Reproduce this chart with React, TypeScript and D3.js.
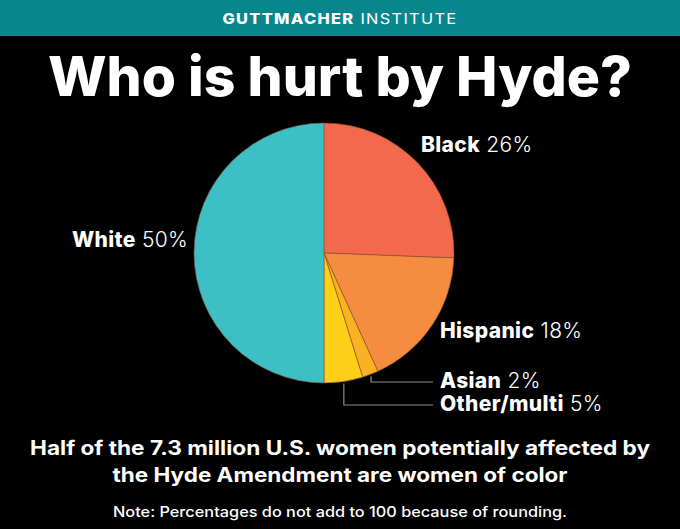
import React from 'react';
import * as d3 from 'd3';

// slice data (order clockwise from 12 o'clock)
const categories = ['Black', 'Hispanic', 'Asian', 'Other/multi', 'White'];
const shares = [25.6, 17.6, 2.0, 4.8, 50.0];
const pctLabels = ['26%', '18%', '2%', '5%', '50%'];
const sliceColors = ['#f26a4b', '#f58c40', '#fbb124', '#fdcf17', '#3cbfc5'];

const subtitleLines = [
  'Half of the 7.3 million U.S. women potentially affected by',
  'the Hyde Amendment are women of color',
];
const note = 'Note: Percentages do not add to 100 because of rounding.';

const W = 680;
const H = 529;
const FONT = 'Inter, "Open Sans", sans-serif';

// label placement (layout only)
const labelLayout: Record<string, { x: number; y: number; leader?: boolean }> = {
  Black: { x: 421, y: 152 },
  Hispanic: { x: 440, y: 338 },
  Asian: { x: 440, y: 388, leader: true },
  'Other/multi': { x: 440, y: 411, leader: true },
  White: { x: 72, y: 247 },
};
const subtitleWidths = [620, 455];

const App: React.FC = () => {
  const cx = 324;
  const cy = 253;
  const r = 130;

  const rows = categories.map((c, i) => ({ name: c, share: shares[i], pct: pctLabels[i], color: sliceColors[i] }));
  const pie = d3.pie<typeof rows[number]>().sort(null).value(d => d.share);
  const arcs = pie(rows);
  const arc = d3.arc<d3.PieArcDatum<typeof rows[number]>>().innerRadius(0).outerRadius(r);

  return (
    <svg width={W} height={H} style={{ position: 'absolute', left: 0, top: 0, display: 'block' }}>
      <rect width={W} height={H} fill="#000" />
      {/* header band */}
      <rect width={W} height={36} fill="#07868d" />
      <text x={W / 2} y={24} textAnchor="middle" fill="#fff" fontFamily={FONT} fontSize={15} letterSpacing={1.2}
        textLength={235} lengthAdjust="spacingAndGlyphs">
        <tspan fontWeight={800}>GUTTMACHER</tspan>
        <tspan fontWeight={400}> INSTITUTE</tspan>
      </text>

      {/* title */}
      <text x={W / 2} y={96} textAnchor="middle" fill="#fff" fontFamily={FONT} fontWeight={800} fontSize={55}
        textLength={584} lengthAdjust="spacingAndGlyphs">
        Who is hurt by Hyde?
      </text>

      {/* pie */}
      <g transform={`translate(${cx},${cy})`}>
        {arcs.map(a => (
          <path key={a.data.name} d={arc(a) || ''} fill={a.data.color} stroke="#8a5034" strokeWidth={0.6} />
        ))}
      </g>

      {/* leader lines */}
      {arcs.map(a => {
        const lay = labelLayout[a.data.name];
        if (!lay.leader) return null;
        const mid = (a.startAngle + a.endAngle) / 2;
        const px = cx + (r + 2) * Math.sin(mid);
        const py = cy - (r + 2) * Math.cos(mid);
        const ly = lay.y - 6;
        return (
          <polyline key={a.data.name + '-l'} points={`${px},${py} ${px},${ly} ${lay.x - 7},${ly}`}
            fill="none" stroke="#8c8c8c" strokeWidth={1.2} />
        );
      })}

      {/* labels */}
      {arcs.map(a => {
        const lay = labelLayout[a.data.name];
        return (
          <text key={a.data.name + '-t'} x={lay.x} y={lay.y} fill="#fff" fontFamily={FONT} fontSize={21}
            letterSpacing={0.35}>
            <tspan fontWeight={800}>{a.data.name}</tspan>
            <tspan fontWeight={300}> {a.data.pct}</tspan>
          </text>
        );
      })}

      {/* subtitle */}
      {subtitleLines.map((s, i) => (
        <text key={i} x={W / 2} y={455 + i * 27} textAnchor="middle" fill="#fff" fontFamily={FONT}
          fontWeight={700} fontSize={19.5} textLength={subtitleWidths[i]} lengthAdjust="spacingAndGlyphs">
          {s}
        </text>
      ))}
      <text x={W / 2} y={517} textAnchor="middle" fill="#fff" fontFamily={FONT} fontWeight={500} fontSize={14.5}
        textLength={454} lengthAdjust="spacingAndGlyphs">
        {note}
      </text>
    </svg>
  );
};

export default App;
